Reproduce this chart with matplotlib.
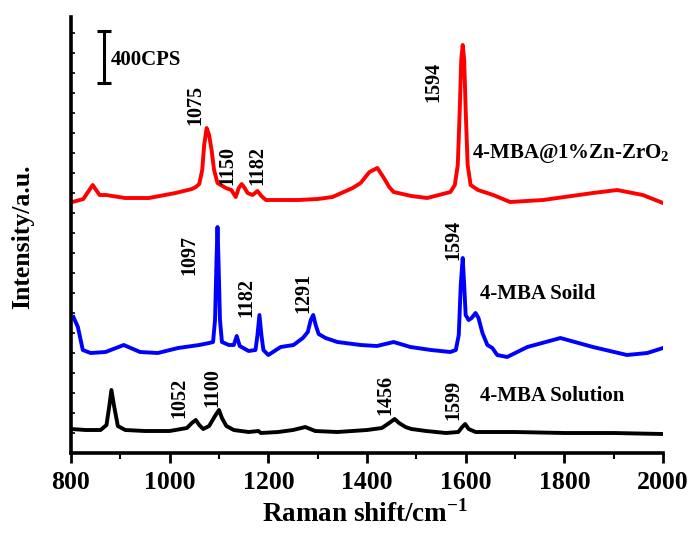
import matplotlib
matplotlib.use("Agg")
import matplotlib.pyplot as plt
from matplotlib.ticker import MultipleLocator

plt.rcParams['font.family'] = ['Liberation Serif', 'DejaVu Serif']
plt.rcParams['font.weight'] = 'bold'
plt.rcParams['mathtext.fontset'] = 'custom'
plt.rcParams['mathtext.rm'] = 'Liberation Serif:bold'
plt.rcParams['mathtext.bf'] = 'Liberation Serif:bold'

# intensities in a.u. (stacked), 400 CPS ~ 52 a.u.
shift_sol = [800, 830, 860, 872, 878, 882, 887, 895, 910, 950, 1000, 1035, 1045,
             1053, 1060, 1068, 1080, 1092, 1100, 1106, 1115, 1130, 1160, 1180,
             1185, 1220, 1250, 1275, 1295, 1340, 1400, 1430, 1445, 1456, 1465,
             1478, 1490, 1520, 1560, 1585, 1593, 1599, 1606, 1620, 1700, 1800,
             1900, 2000]
int_sol = [24, 23, 23, 28, 48, 63, 48, 27, 23, 22, 22, 25, 30,
           33, 28, 24, 27, 37, 43, 35, 27, 23, 21, 22,
           20, 21, 23, 26, 22, 21, 23, 25, 30, 34, 30,
           26, 24, 22, 20, 21, 26, 29, 24, 21, 21, 20,
           20, 19]

shift_solid = [805, 814, 824, 840, 870, 907, 940, 976, 1017, 1060, 1080, 1088,
               1092, 1095, 1097, 1099, 1102, 1106, 1120, 1130, 1136, 1142, 1160,
               1174, 1178, 1182, 1186, 1190, 1200, 1225, 1251, 1270, 1280, 1286,
               1291, 1296, 1302, 1316, 1340, 1387, 1420, 1454, 1488, 1530, 1569,
               1580, 1586, 1590, 1594, 1597, 1600, 1606, 1612, 1620, 1626, 1634,
               1644, 1654, 1664, 1684, 1725, 1792, 1858, 1927, 1968, 2000]
int_solid = [136, 126, 103, 100, 101, 108, 101, 100, 105, 108, 110, 111,
             133, 193, 226, 193, 133, 111, 108, 108, 117, 107, 102,
             103, 118, 138, 118, 103, 98, 106, 108, 115, 121, 133,
             138, 128, 119, 115, 111, 108, 107, 111, 106, 103, 101,
             103, 118, 168, 195, 168, 138, 133, 135, 140, 135, 120,
             108, 105, 98, 96, 106, 115, 106, 98, 100, 105]

shift_zr = [803, 825, 844, 858, 871, 910, 958, 1012, 1045, 1053, 1060, 1066,
            1070, 1075, 1080, 1085, 1090, 1097, 1114, 1125, 1134, 1140, 1146,
            1152, 1158, 1168, 1178, 1186, 1195, 1230, 1261, 1300, 1330, 1371,
            1387, 1405, 1421, 1433, 1445, 1454, 1490, 1522, 1569, 1578, 1584,
            1588, 1591, 1594, 1597, 1600, 1604, 1610, 1625, 1656, 1690, 1757,
            1800, 1858, 1907, 1959, 2000]
int_zr = [251, 254, 268, 258, 258, 255, 255, 260, 264, 266, 269, 283,
          308, 325, 318, 303, 283, 270, 265, 263, 256, 265, 269,
          265, 260, 258, 262, 257, 253, 253, 253, 254, 256, 265,
          270, 281, 285, 276, 266, 261, 257, 255, 261, 268, 288,
          343, 393, 408, 393, 343, 288, 268, 263, 258, 251, 253,
          256, 260, 263, 258, 250]

# peak labels: (text, x, bottom y)
peaks_zr = [("1075", 1053, 328), ("1150", 1117, 268), ("1182", 1178, 268), ("1594", 1534, 351)]
peaks_solid = [("1097", 1039, 178), ("1182", 1156, 136), ("1291", 1271, 140), ("1594", 1575, 193)]
peaks_sol = [("1052", 1019, 35), ("1100", 1087, 46), ("1456", 1437, 38), ("1599", 1575, 33)]

fig = plt.figure(figsize=(6.89, 5.40), dpi=100)
ax = fig.add_axes([0.1030, 0.1611, 0.8593, 0.8074])

ax.plot(shift_zr, int_zr, color='#ff0000', lw=2.8)
ax.plot(shift_solid, int_solid, color='#0000ff', lw=2.8)
ax.plot(shift_sol, int_sol, color='black', lw=2.8)

for peaks in (peaks_zr, peaks_solid, peaks_sol):
    for txt, x, y in peaks:
        ax.text(x, y, txt, rotation=90, ha='center', va='bottom',
                fontsize=14.5, fontweight='bold')

ax.text(1613, 300, r'4-MBA@1%Zn-ZrO$_2$', fontsize=15, fontweight='bold', va='center')
ax.text(1629, 159, '4-MBA Soild', fontsize=15, fontweight='bold', va='center')
ax.text(1629, 57, '4-MBA Solution', fontsize=15, fontweight='bold', va='center')

# scale bar
ax.plot([866, 866], [370, 422], color='black', lw=2.2, marker='_', ms=10, mew=2.2)
ax.text(881, 393, '400CPS', fontsize=15, fontweight='bold', va='center')

ax.set_xlim(800, 2000)
ax.set_ylim(0, 436)
ax.xaxis.set_major_locator(MultipleLocator(200))
ax.xaxis.set_minor_locator(MultipleLocator(100))
ax.yaxis.set_major_locator(MultipleLocator(20))
ax.set_yticklabels([])
ax.tick_params(axis='x', which='major', direction='out', length=7, width=2, labelsize=18.5, pad=6)
ax.tick_params(axis='x', which='minor', direction='out', length=4, width=1.5)
ax.tick_params(axis='y', which='major', direction='in', length=3, width=1.2, left=True)
for lab in ax.get_xticklabels():
    lab.set_fontweight('bold')

for s in ('top', 'right'):
    ax.spines[s].set_visible(False)
ax.spines['left'].set_linewidth(2.6)
ax.spines['bottom'].set_linewidth(2.6)

ax.set_xlabel(r'Raman shift/cm$^{-1}$', fontsize=19.5, fontweight='bold')
ax.set_ylabel('Intensity/a.u.', fontsize=18.5, fontweight='bold')
ax.xaxis.set_label_coords(0.496, -0.108)
ax.yaxis.set_label_coords(-0.062, 0.495)

fig.savefig('out.png', dpi=100)
